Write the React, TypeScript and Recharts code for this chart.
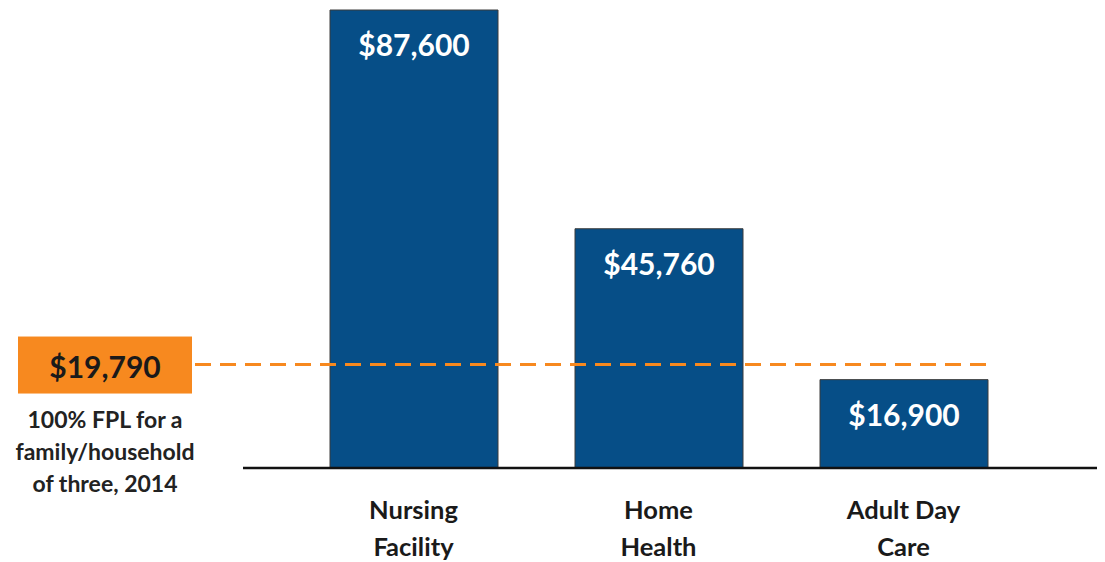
import React from 'react';
import { BarChart, Bar, XAxis, YAxis, ReferenceLine, LabelList } from 'recharts';

const categories = ['Nursing Facility', 'Home Health', 'Adult Day Care'];
const categoryLines = [['Nursing', 'Facility'], ['Home', 'Health'], ['Adult Day', 'Care']];
const costs = [87600, 45760, 16900];
const costLabels = ['$87,600', '$45,760', '$16,900'];
const fplValue = 19790;
const fplLabel = '$19,790';
const fplNote = ['100% FPL for a', 'family/household', 'of three, 2014'];

const data = categories.map((c, i) => ({ name: c, cost: costs[i], label: costLabels[i] }));

const FONT = 'Lato, "Open Sans", sans-serif';
const BLUE = '#064E87';
const ORANGE = '#F7891F';

const CategoryTick = (props: any) => {
  const { x, y, payload } = props;
  const idx = categories.indexOf(payload.value);
  const lines = categoryLines[idx] || [payload.value];
  return (
    <g>
      {lines.map((l, i) => (
        <text key={i} x={x} y={y + 43 + i * 37} textAnchor="middle" fontFamily={FONT} fontWeight={700} fontSize={25.5} fill="#1a1a1a">
          {l}
        </text>
      ))}
    </g>
  );
};

const BarValueLabel = (props: any) => {
  const { x, y, width, index } = props;
  return (
    <text x={x + width / 2} y={y + 46} textAnchor="middle" fontFamily={FONT} fontWeight={700} fontSize={30} fill="#ffffff">
      {costLabels[index]}
    </text>
  );
};

const FplMarker = (props: any) => {
  const { viewBox } = props;
  const px = viewBox.x;
  const cy = viewBox.y;
  const boxLeft = px - 225;
  const boxW = 174;
  const cx = boxLeft + boxW / 2;
  return (
    <g>
      <line x1={px - 48} y1={cy} x2={px + 747} y2={cy} stroke={ORANGE} strokeWidth={3} strokeDasharray="16 9" />
      <rect x={boxLeft} y={cy - 28} width={boxW} height={57} fill={ORANGE} />
      <text x={cx} y={cy + 13} textAnchor="middle" fontFamily={FONT} fontWeight={700} fontSize={30} fill="#1a1a1a">
        {fplLabel}
      </text>
      {fplNote.map((l, i) => (
        <text key={i} x={cx} y={cy + 63 + i * 32} textAnchor="middle" fontFamily={FONT} fontWeight={700} fontSize={23} fill="#222222">
          {l}
        </text>
      ))}
    </g>
  );
};

export default function App() {
  return (
    <div style={{ width: 1097, height: 554 }}>
      <BarChart width={1097} height={554} data={data} margin={{ top: 2, right: 0, left: 235, bottom: 0 }}>
        <XAxis
          dataKey="name"
          height={94}
          axisLine={{ stroke: '#111111', strokeWidth: 2.5 }}
          tickLine={false}
          padding={{ left: 48, right: 79 }}
          tick={<CategoryTick />}
          interval={0}
        />
        <YAxis hide domain={[0, 87600]} />
        <Bar dataKey="cost" fill={BLUE} stroke="#3a3a3a" strokeWidth={1} barSize={168} isAnimationActive={false}>
          <LabelList dataKey="label" content={<BarValueLabel />} />
        </Bar>
        <ReferenceLine y={fplValue} stroke="none" label={<FplMarker />} />
      </BarChart>
    </div>
  );
}
